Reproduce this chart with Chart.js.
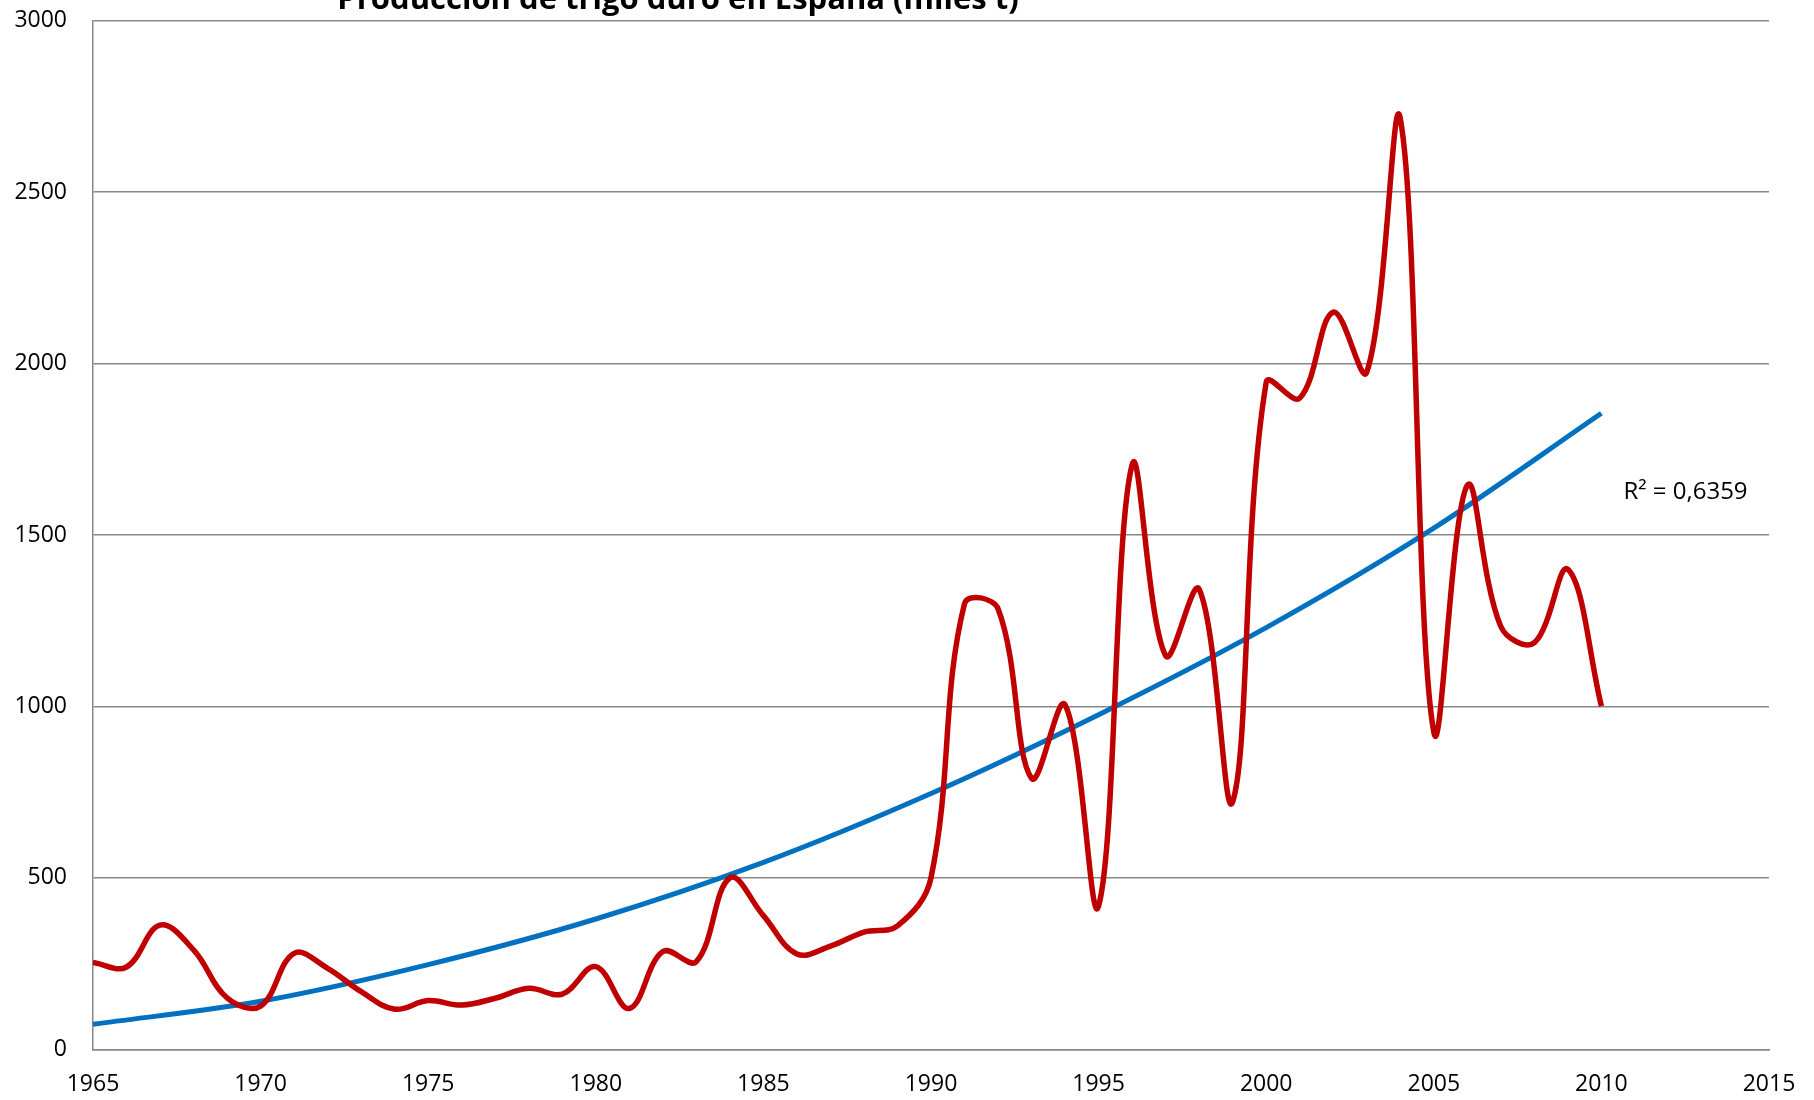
<!DOCTYPE html>
<html>
<head>
  <meta charset="utf-8">
  <title>Producción de trigo duro en España</title>
  <script src="https://cdn.jsdelivr.net/npm/chart.js"></script>
  <style>
    body {
      margin: 0;
      background: #fff;
      overflow: hidden;
    }
    #chart { display: block; }
  </style>
</head>
<body>
  <canvas id="chart" width="1814" height="1100"></canvas>

  <script>
    const chartTitle = "Producción de trigo duro en España (miles t)";
    const r2Label = "R² = 0,6359";

    // yearly production (thousand t)
    const years = [1965, 1966, 1967, 1968, 1969, 1970, 1971, 1972, 1973, 1974,
                   1975, 1976, 1977, 1978, 1979, 1980, 1981, 1982, 1983, 1984,
                   1985, 1986, 1987, 1988, 1989, 1990, 1991, 1992, 1993, 1994,
                   1995, 1996, 1997, 1998, 1999, 2000, 2001, 2002, 2003, 2004,
                   2005, 2006, 2007, 2008, 2009, 2010];
    const production = [253, 240, 362, 290, 150, 126, 280, 236, 168, 117,
                        142, 129, 149, 178, 161, 241, 119, 285, 256, 500,
                        390, 278, 301, 342, 360, 500, 1300, 1285, 790, 1005,
                        418, 1705, 1148, 1342, 722, 1945, 1899, 2150, 1975, 2715,
                        925, 1645, 1233, 1186, 1400, 1001];

    // polynomial trend line, read at 5-year steps
    const trendYears = [1965, 1970, 1975, 1980, 1985, 1990, 1995, 2000, 2005, 2010];
    const trendValues = [73, 140, 247, 380, 545, 746, 976, 1230, 1520, 1855];

    const xTicks = { min: 1965, max: 2015, step: 5 };
    const yTicks = { min: 0, max: 3000, step: 500 };

    const gridColor = '#878787';
    const font = "'Open Sans', 'Noto Sans', sans-serif";

    // title and R² text drawn on the canvas
    const textPlugin = {
      id: 'texts',
      afterDraw(chart) {
        const ctx = chart.ctx;
        const x = chart.scales.x, y = chart.scales.y;
        ctx.save();
        ctx.fillStyle = '#000';
        ctx.font = "bold 31px " + font;
        ctx.textAlign = 'center';
        ctx.textBaseline = 'alphabetic';
        ctx.fillText(chartTitle, 678, 9);

        ctx.font = "24px " + font;
        ctx.textAlign = 'left';
        ctx.textBaseline = 'middle';
        ctx.fillText(r2Label, x.getPixelForValue(2010) + 22, y.getPixelForValue(1625));
        ctx.restore();
      }
    };

    new Chart(document.getElementById('chart'), {
      type: 'line',
      data: {
        datasets: [
          {
            label: 'Producción',
            data: years.map((yr, i) => ({ x: yr, y: production[i] })),
            borderColor: '#C00000',
            borderWidth: 5.5,
            pointRadius: 0,
            tension: 0.38,
            fill: false
          },
          {
            label: 'Polinómica',
            data: trendYears.map((yr, i) => ({ x: yr, y: trendValues[i] })),
            borderColor: '#0070C0',
            borderWidth: 5,
            pointRadius: 0,
            cubicInterpolationMode: 'monotone',
            fill: false
          }
        ]
      },
      options: {
        responsive: false,
        animation: false,
        layout: { padding: { top: 20.7, right: 45, left: 0, bottom: 0 } },
        plugins: {
          legend: { display: false },
          tooltip: { enabled: false }
        },
        scales: {
          x: {
            type: 'linear',
            min: xTicks.min,
            max: xTicks.max,
            afterFit(scale) {
              scale.height = 50.7;
              scale.paddingLeft = 0;
              scale.paddingRight = 0;
            },
            ticks: {
              stepSize: xTicks.step,
              padding: 21,
              color: '#000',
              font: { family: font, size: 23 },
              callback: v => String(v),
              maxRotation: 0
            },
            grid: { display: false, drawTicks: false },
            border: { display: true, color: gridColor, width: 1.5 }
          },
          y: {
            min: yTicks.min,
            max: yTicks.max,
            afterFit(scale) {
              scale.width = 93;
              scale.paddingTop = 0;
              scale.paddingBottom = 0;
            },
            ticks: {
              stepSize: yTicks.step,
              padding: 26,
              color: '#000',
              font: { family: font, size: 23 },
              callback: v => String(v)
            },
            grid: { color: gridColor, lineWidth: 1.5, drawTicks: false },
            border: { display: true, color: gridColor, width: 1.5 }
          }
        }
      },
      plugins: [textPlugin]
    });
  </script>
</body>
</html>
